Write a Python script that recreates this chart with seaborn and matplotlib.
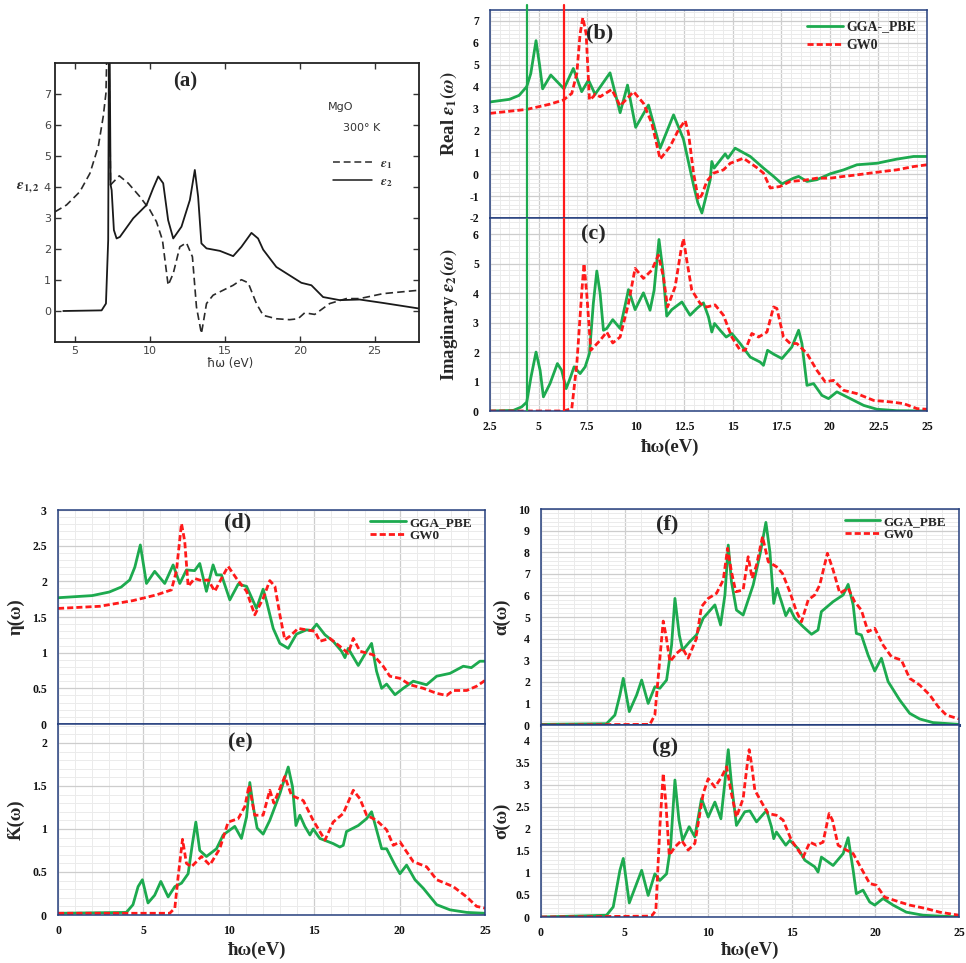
import numpy as np
import pandas as pd
import matplotlib
matplotlib.use('Agg')
import matplotlib.pyplot as plt
import seaborn as sns
from matplotlib.ticker import MultipleLocator, FuncFormatter
from matplotlib.lines import Line2D

sns.set_theme(style='white')
plt.rcParams['font.family'] = ['Liberation Serif', 'DejaVu Serif']
plt.rcParams['font.weight'] = 'bold'
plt.rcParams['mathtext.fontset'] = 'stix'
plt.rcParams['axes.unicode_minus'] = False

# ---------------- data ----------------
# (a) experimental MgO, 300 K
a_e1_x = [3.67, 4.44, 5.33, 6.0, 6.56, 6.89, 7.07, 7.16, 7.25, 7.38, 7.96, 8.56, 9.33, 10.0, 10.44, 10.84,
          11.22, 11.56, 12.0, 12.44, 12.84, 13.11, 13.44, 13.78, 14.22, 14.89, 15.56, 16.11, 16.56, 17.11,
          17.56, 18.44, 19.33, 19.89, 20.33, 21.0, 22.0, 23.11, 24.0, 25.56, 27.96]
a_e1_y = [3.2, 3.42, 3.85, 4.44, 5.31, 6.28, 7.03, 9.0, 9.0, 4.07, 4.36, 4.12, 3.69, 3.26, 2.88, 2.29,
          0.83, 1.21, 2.07, 2.2, 1.75, 0.13, -0.73, 0.24, 0.51, 0.67, 0.83, 1.01, 0.91, 0.24,
          -0.14, -0.25, -0.28, -0.25, -0.06, -0.11, 0.24, 0.4, 0.4, 0.56, 0.67]
a_e2_x = [4.22, 6.78, 7.07, 7.22, 7.27, 7.31, 7.38, 7.45, 7.6, 7.78, 8.0, 8.89, 9.78, 10.22, 10.56, 10.89,
          11.22, 11.56, 12.11, 12.67, 13.0, 13.22, 13.44, 13.78, 14.67, 15.56, 16.11, 16.78, 17.22, 17.56,
          18.44, 20.11, 20.78, 21.56, 22.67, 24.0, 25.56, 27.96]
a_e2_y = [0, 0.02, 0.24, 2.29, 9.0, 9.0, 4.07, 3.9, 2.61, 2.34, 2.39, 2.99, 3.42, 3.96, 4.34, 4.12,
          2.93, 2.34, 2.72, 3.58, 4.55, 3.69, 2.18, 2.02, 1.94, 1.77, 2.07, 2.52, 2.34, 1.98,
          1.42, 0.91, 0.83, 0.45, 0.35, 0.37, 0.26, 0.08]

# (b) real part eps1
b_gga_x = [2.5, 3.5, 4.0, 4.39, 4.6, 4.87, 5.05, 5.21, 5.63, 6.31, 6.79, 7.22, 7.57, 7.91, 8.68, 9.2, 9.58,
           10.0, 10.66, 11.26, 11.95, 12.46, 12.98, 13.2, 13.41, 13.84, 13.92, 14.04, 14.61, 14.75, 15.12,
           15.9, 16.58, 17.1, 17.53, 18.13, 18.39, 18.82, 19.33, 20.02, 20.71, 21.39, 22.42, 23.45, 24.31, 25.0]
b_gga_y = [3.3, 3.42, 3.6, 4.0, 4.6, 6.1, 5.0, 3.9, 4.53, 3.9, 4.83, 3.77, 4.3, 3.65, 4.63, 2.81, 4.07,
           2.14, 3.16, 1.19, 2.71, 1.6, -0.5, -1.3, -1.77, -0.25, 0.58, 0.28, 0.93, 0.73, 1.19,
           0.81, 0.28, -0.1, -0.44, -0.18, -0.1, -0.33, -0.25, 0.02, 0.2, 0.43, 0.5, 0.69, 0.81, 0.81]
b_gw_x = [2.5, 4.39, 5.59, 6.28, 6.71, 6.97, 7.14, 7.28, 7.45, 7.62, 7.82, 7.91, 8.17, 8.77, 9.2, 9.89,
          10.4, 10.83, 11.26, 11.77, 12.2, 12.55, 12.72, 12.98, 13.23, 13.41, 13.66, 14.01, 14.52, 14.87,
          15.55, 16.24, 16.58, 16.93, 17.44, 17.96, 18.65, 19.33, 20.02, 20.71, 21.39, 22.08, 22.77, 23.45,
          24.31, 25.0]
b_gw_y = [2.78, 2.96, 3.2, 3.39, 3.69, 4.6, 6.42, 7.15, 6.42, 3.39, 3.54, 3.66, 3.54, 3.87, 3.12, 3.77,
          3.24, 2.33, 0.69, 1.26, 2.02, 2.45, 1.87, 0.05, -1.16, -0.94, -0.33, 0.05, 0.2, 0.5,
          0.73, 0.3, 0.05, -0.63, -0.56, -0.33, -0.28, -0.18, -0.18, -0.1, -0.03, 0.05, 0.13, 0.2,
          0.35, 0.43]
gap_gga, gap_gw = 4.4, 6.3

# (c) imaginary part eps2
c_gga_x = [2.5, 3.7, 4.13, 4.39, 4.61, 4.87, 5.08, 5.25, 5.59, 5.97, 6.19, 6.42, 6.62, 6.83, 7.14, 7.4,
           7.62, 7.82, 8.0, 8.17, 8.34, 8.51, 8.82, 9.2, 9.63, 9.97, 10.4, 10.74, 10.95, 11.2, 11.4, 11.6,
           11.86, 12.38, 12.8, 13.15, 13.49, 13.75, 13.92, 14.06, 14.35, 14.66, 14.95, 15.38, 15.9, 16.41,
           16.58, 16.79, 17.1, 17.53, 18.04, 18.39, 18.56, 18.82, 19.16, 19.59, 19.93, 20.36, 21.05, 21.74,
           22.42, 23.45, 25.0]
c_gga_y = [0, 0.02, 0.14, 0.3, 1.15, 2.0, 1.38, 0.48, 0.93, 1.61, 1.38, 0.76, 1.1, 1.5, 1.27, 1.5,
           1.95, 3.65, 4.75, 3.99, 2.74, 2.8, 3.1, 2.8, 4.12, 3.44, 4.01, 3.42, 4.1, 5.82, 4.78, 3.22,
           3.44, 3.7, 3.25, 3.48, 3.67, 3.19, 2.68, 2.97, 2.74, 2.51, 2.63, 2.29, 1.83, 1.66,
           1.55, 2.06, 1.93, 1.78, 2.17, 2.74, 2.29, 0.87, 0.93, 0.53, 0.42, 0.65, 0.42, 0.19,
           0.06, 0.01, 0]
c_gw_x = [2.5, 6.28, 6.71, 6.97, 7.22, 7.34, 7.48, 7.69, 8.17, 8.51, 8.82, 9.2, 9.63, 9.97, 10.4, 10.83,
          11.17, 11.43, 11.64, 12.03, 12.32, 12.46, 12.63, 12.89, 13.32, 13.66, 14.09, 14.52, 14.95, 15.38,
          15.64, 15.98, 16.33, 16.76, 17.1, 17.27, 17.61, 17.96, 18.3, 18.82, 19.33, 19.76, 20.19, 20.71,
          21.39, 22.25, 23.11, 23.8, 24.49, 25.0]
c_gw_y = [0, 0, 0.08, 1.6, 3.99, 5.0, 3.99, 2.06, 2.4, 2.68, 2.31, 2.51, 3.65, 4.84, 4.5, 4.78,
          5.29, 4.55, 3.53, 4.21, 5.4, 5.85, 5.12, 4.1, 3.65, 3.53, 3.6, 3.25, 2.51, 2.06,
          2.06, 2.63, 2.51, 2.68, 3.53, 3.48, 2.51, 2.29, 2.29, 1.95, 1.38, 0.99, 1.04, 0.7,
          0.59, 0.36, 0.31, 0.25, 0.08, 0.06]

# (d) refractive index
d_gga_x = [0, 2.0, 3.0, 3.7, 4.2, 4.5, 4.82, 5.18, 5.66, 6.25, 6.74, 7.13, 7.52, 8.0, 8.3, 8.69, 9.08,
           9.28, 9.57, 10.06, 10.55, 11.04, 11.62, 12.01, 12.21, 12.6, 12.99, 13.48, 13.96, 14.55, 14.84,
           15.14, 15.63, 16.11, 16.6, 16.8, 16.99, 17.58, 18.07, 18.36, 18.65, 18.95, 19.24, 19.73, 20.21,
           20.8, 21.58, 22.17, 22.95, 23.73, 24.2, 24.7, 25.0]
d_gga_y = [1.77, 1.8, 1.85, 1.92, 2.02, 2.2, 2.51, 1.97, 2.14, 1.97, 2.23, 1.97, 2.16, 2.15, 2.25, 1.86, 2.23,
           2.09, 2.09, 1.74, 1.96, 1.93, 1.62, 1.89, 1.72, 1.34, 1.13, 1.06, 1.26, 1.32, 1.31,
           1.4, 1.25, 1.16, 1.02, 0.93, 1.06, 0.82, 1.02, 1.13, 0.74, 0.5, 0.56, 0.41, 0.5,
           0.6, 0.55, 0.67, 0.71, 0.81, 0.79, 0.88, 0.88]
d_gw_x = [0, 2.44, 4.39, 5.76, 6.64, 6.93, 7.23, 7.42, 7.62, 8.0, 8.4, 8.79, 9.18, 9.57, 9.96, 10.45,
          11.04, 11.52, 12.01, 12.4, 12.7, 12.99, 13.28, 13.57, 14.06, 14.55, 15.04, 15.33, 15.92, 16.5,
          16.99, 17.29, 17.68, 18.46, 19.04, 19.43, 20.02, 20.61, 21.39, 22.17, 22.75, 23.14, 23.93, 24.51, 25.0]
d_gw_y = [1.62, 1.65, 1.73, 1.81, 1.88, 2.14, 2.81, 2.56, 1.93, 2.04, 2.01, 2.02, 1.86, 2.04, 2.21, 2.04,
          1.86, 1.53, 1.76, 2.01, 1.93, 1.53, 1.18, 1.23, 1.34, 1.32, 1.3, 1.16, 1.2, 1.09,
          0.99, 1.2, 1.02, 0.97, 0.81, 0.67, 0.64, 0.55, 0.5, 0.43, 0.4, 0.47, 0.47, 0.53, 0.61]

# (e) extinction coefficient
e_gga_x = [0, 4.0, 4.39, 4.69, 4.94, 5.27, 5.66, 6.02, 6.45, 6.84, 7.23, 7.62, 7.87, 8.07, 8.3, 8.69, 9.28,
           9.67, 10.35, 10.74, 11.04, 11.23, 11.43, 11.66, 12.01, 12.4, 12.99, 13.48, 13.73, 13.93, 14.16,
           14.45, 14.75, 14.94, 15.33, 16.11, 16.5, 16.7, 16.89, 17.58, 18.07, 18.36, 18.65, 18.95, 19.24,
           19.73, 20.02, 20.41, 20.9, 21.39, 22.17, 22.95, 23.93, 25.0]
e_gga_y = [0.02, 0.03, 0.12, 0.33, 0.41, 0.14, 0.23, 0.39, 0.21, 0.33, 0.37, 0.48, 0.83, 1.08, 0.75, 0.68, 0.77,
           0.93, 1.03, 0.89, 1.14, 1.54, 1.26, 1.01, 0.94, 1.1, 1.41, 1.72, 1.49, 1.04, 1.16,
           1.03, 0.93, 1.0, 0.89, 0.83, 0.79, 0.81, 0.97, 1.04, 1.12, 1.2, 0.99, 0.77, 0.77,
           0.58, 0.48, 0.58, 0.41, 0.31, 0.12, 0.06, 0.03, 0.02]
e_gw_x = [0, 6.54, 6.84, 7.03, 7.29, 7.52, 7.81, 8.4, 8.89, 9.47, 9.96, 10.55, 10.94, 11.19, 11.52, 12.01,
          12.4, 12.64, 13.28, 13.67, 14.36, 14.94, 15.63, 16.11, 16.7, 17.29, 17.68, 18.07, 18.65, 19.24,
          19.63, 20.02, 20.8, 21.58, 22.17, 23.14, 23.93, 24.51, 25.0]
e_gw_y = [0.02, 0.02, 0.08, 0.44, 0.88, 0.6, 0.56, 0.68, 0.58, 0.77, 1.08, 1.12, 1.26, 1.51, 1.16, 1.16,
          1.45, 1.3, 1.61, 1.39, 1.33, 1.1, 0.87, 1.08, 1.18, 1.45, 1.35, 1.16, 1.1, 0.99,
          0.81, 0.85, 0.62, 0.56, 0.41, 0.33, 0.21, 0.1, 0.08]

# (f) absorption coefficient
f_gga_x = [0, 3.92, 4.42, 4.72, 4.92, 5.28, 5.72, 6.02, 6.41, 6.81, 7.11, 7.51, 7.81, 8.01, 8.27, 8.47, 8.9,
           9.3, 9.7, 10.4, 10.74, 11.0, 11.2, 11.39, 11.69, 12.09, 12.69, 13.13, 13.45, 13.69, 13.92, 14.12,
           14.38, 14.64, 14.88, 15.18, 15.68, 16.18, 16.57, 16.77, 17.47, 18.07, 18.37, 18.67, 18.86, 19.16,
           19.56, 19.96, 20.36, 20.76, 21.45, 22.05, 22.65, 23.45, 25.0]
f_gga_y = [0.03, 0.06, 0.46, 1.39, 2.16, 0.62, 1.39, 2.08, 1.0, 1.77, 1.7, 2.08, 3.7, 5.86, 4.17, 3.47, 3.86,
           4.17, 4.94, 5.56, 4.63, 6.02, 8.33, 6.64, 5.32, 5.09, 6.48, 8.02, 9.38, 8.02, 5.63, 6.33,
           5.71, 5.06, 5.4, 4.94, 4.55, 4.2, 4.4, 5.25, 5.71, 6.02, 6.51, 5.56, 4.24, 4.17,
           3.24, 2.5, 3.09, 2.01, 1.16, 0.54, 0.28, 0.11, 0.03]
f_gw_x = [0, 6.51, 6.81, 7.11, 7.31, 7.47, 7.71, 8.11, 8.47, 8.8, 9.3, 9.6, 10.0, 10.5, 10.9, 11.16, 11.39,
          11.65, 12.09, 12.39, 12.63, 12.89, 13.25, 13.59, 14.08, 14.44, 14.88, 15.28, 15.58, 15.98, 16.37,
          16.67, 17.13, 17.47, 17.87, 18.37, 18.76, 19.16, 19.56, 19.96, 20.46, 20.96, 21.55, 22.05, 22.65,
          23.25, 23.75, 24.24, 25.0]
f_gw_y = [0.0, 0.03, 0.46, 3.09, 4.81, 4.17, 2.93, 3.32, 3.55, 3.09, 4.01, 5.48, 5.86, 6.1, 6.71, 8.18, 7.1,
          6.17, 6.25, 7.79, 6.79, 7.41, 8.72, 7.56, 7.33, 7.02, 6.17, 5.25, 4.78, 5.79, 6.02,
          6.48, 7.95, 7.18, 6.1, 6.33, 5.71, 5.32, 4.32, 4.48, 3.7, 3.16, 3.01, 2.16, 1.85,
          1.39, 0.85, 0.46, 0.28]

# (g) optical conductivity
g_gga_x = [0, 3.92, 4.32, 4.72, 4.92, 5.28, 5.72, 6.02, 6.41, 6.81, 7.11, 7.51, 7.75, 8.01, 8.25, 8.47, 8.86,
           9.2, 9.6, 10.0, 10.4, 10.76, 11.0, 11.2, 11.39, 11.69, 12.19, 12.49, 12.89, 13.49, 13.78, 13.92,
           14.08, 14.64, 14.88, 15.38, 15.78, 16.37, 16.57, 16.77, 17.47, 18.07, 18.37, 18.67, 18.86, 19.26,
           19.66, 19.96, 20.46, 21.06, 21.85, 22.85, 25.0]
g_gga_y = [0, 0.04, 0.23, 1.06, 1.33, 0.32, 0.76, 1.06, 0.49, 0.98, 0.83, 0.98, 1.59, 3.11, 2.2, 1.74, 2.05,
           1.82, 2.69, 2.27, 2.61, 2.23, 3.07, 3.8, 3.03, 2.08, 2.39, 2.41, 2.16, 2.42, 2.05, 1.78,
           1.93, 1.63, 1.74, 1.55, 1.29, 1.14, 1.02, 1.36, 1.17, 1.44, 1.8, 1.06, 0.53, 0.61,
           0.34, 0.27, 0.42, 0.27, 0.11, 0.04, 0]
g_gw_x = [0, 6.61, 6.87, 7.11, 7.31, 7.47, 7.67, 8.01, 8.41, 8.8, 9.2, 9.7, 10.0, 10.4, 10.8, 11.1, 11.39,
          11.69, 12.09, 12.33, 12.45, 12.59, 12.79, 13.29, 13.59, 14.08, 14.48, 14.98, 15.38, 15.68, 16.08,
          16.47, 16.87, 17.23, 17.43, 17.77, 18.27, 18.67, 19.16, 19.66, 20.06, 20.56, 21.45, 22.05, 23.05,
          23.84, 25.0]
g_gw_y = [0, 0.02, 0.15, 2.05, 3.26, 2.58, 1.4, 1.59, 1.74, 1.52, 1.67, 2.8, 3.14, 2.95, 3.18, 3.41, 2.8,
          2.27, 2.69, 3.45, 3.8, 3.48, 2.88, 2.54, 2.35, 2.31, 2.2, 1.74, 1.52, 1.36, 1.7,
          1.63, 1.7, 2.35, 2.2, 1.63, 1.52, 1.44, 1.1, 0.76, 0.72, 0.45, 0.34, 0.27, 0.19,
          0.11, 0.04]

# ---------------- figure ----------------
W, H = 966, 963
fig = plt.figure(figsize=(W / 100, H / 100), dpi=100)

def add_ax(l, t, r, b):
    return fig.add_axes([l / W, 1 - b / H, (r - l) / W, (b - t) / H])

GREEN = '#1DAA4F'
RED = '#FF1A1A'
NAVY = '#26407E'
DASH = (2.2, 1.1)
fmt = FuncFormatter(lambda v, p: f'{v:g}')

def curve(ax, x, y, color, dashed=False, lw=2.0, dash=DASH):
    df = pd.DataFrame({'E': x, 'V': y})
    sns.lineplot(data=df, x='E', y='V', ax=ax, color=color, linewidth=lw,
                 sort=False, estimator=None, legend=False)
    ln = ax.lines[-1]
    ln.set_solid_joinstyle('round')
    ln.set_dash_joinstyle('round')
    if dashed:
        ln.set_dashes(dash)
    return ln

def excel_style(ax, xlim, ylim, xmaj, xmin, ymaj, ymin, show_x=True):
    ax.set_xlim(*xlim)
    ax.set_ylim(*ylim)
    ax.xaxis.set_major_locator(MultipleLocator(xmaj))
    ax.xaxis.set_minor_locator(MultipleLocator(xmin))
    ax.yaxis.set_major_locator(MultipleLocator(ymaj))
    ax.yaxis.set_minor_locator(MultipleLocator(ymin))
    ax.xaxis.set_major_formatter(fmt)
    ax.yaxis.set_major_formatter(fmt)
    ax.grid(True, which='major', color='#cdcdcd', linewidth=0.9)
    ax.grid(True, which='minor', color='#ebebeb', linewidth=0.7)
    ax.set_axisbelow(True)
    for s in ax.spines.values():
        s.set_color(NAVY)
        s.set_linewidth(1.1)
    ax.tick_params(which='both', length=0)
    ax.tick_params(axis='y', pad=8, labelsize=8.5, labelcolor='#111111')
    ax.tick_params(axis='x', pad=7, labelsize=8.5, labelcolor='#111111')
    if not show_x:
        ax.tick_params(axis='x', labelbottom=False)
    ax.set_xlabel('')
    ax.set_ylabel('')

def ylab(ax, text, xpos):
    ax.set_ylabel(text, fontsize=13.5, fontweight='bold')
    ax.yaxis.set_label_coords(xpos, 0.5)

def two_handles():
    return [Line2D([], [], color=GREEN, lw=2.0),
            Line2D([], [], color=RED, lw=2.0, dashes=DASH)]

# ---- (a) ----
axa = add_ax(55, 63, 419, 342)
curve(axa, a_e1_x, a_e1_y, '#2a2a2a', dashed=True, lw=1.2, dash=(4.5, 2.5))
curve(axa, a_e2_x, a_e2_y, '#1a1a1a', lw=1.3)
axa.set_xlim(3.67, 27.96)
axa.set_ylim(-1.0, 8.0)
axa.set_xticks([5, 10, 15, 20, 25])
axa.set_yticks(range(0, 8))
axa.set_xlabel('')
axa.set_ylabel('')
for s in axa.spines.values():
    s.set_color('#222222')
    s.set_linewidth(1.3)
axa.tick_params(which='both', direction='in', length=4, width=1, top=True, right=True,
                left=True, bottom=True, labelsize=8, labelcolor='#444444', pad=3, color='#333333')
for lab in axa.get_xticklabels() + axa.get_yticklabels():
    lab.set_fontfamily('DejaVu Sans')
    lab.set_fontweight('normal')
axa.text(0.357, 0.932, '(a)', transform=axa.transAxes, ha='center', va='center',
         fontsize=15, fontweight='bold')
axa.text(0.75, 0.842, 'MgO', transform=axa.transAxes, ha='left', va='center',
         fontsize=8, family='DejaVu Sans', fontweight='normal', color='#333333')
axa.text(0.79, 0.767, '300° K', transform=axa.transAxes, ha='left', va='center',
         fontsize=8, family='DejaVu Sans', fontweight='normal', color='#333333')
h1 = Line2D([], [], color='#2a2a2a', lw=1.1, dashes=(4.5, 2.5))
h2 = Line2D([], [], color='#1a1a1a', lw=1.1)
lega = axa.legend([h1, h2], [r'$\epsilon_1$', r'$\epsilon_2$'], loc='center left',
                  bbox_to_anchor=(0.73, 0.605), frameon=False, handlelength=3.0,
                  handletextpad=0.6, labelspacing=0.35, fontsize=9.5)
for t in lega.get_texts():
    t.set_color('#333333')
fig.text(28 / W, 1 - 188 / H, r'$\epsilon_{1,2}$', ha='center', va='center', fontsize=11,
         color='#333333')
fig.text(230 / W, 1 - 363 / H, 'ħω (eV)', ha='center', va='center', fontsize=8.5,
         family='DejaVu Sans', fontweight='normal', color='#333333')

# ---- (b) ----
axb = add_ax(490, 10, 927, 218)
curve(axb, b_gga_x, b_gga_y, GREEN)
curve(axb, b_gw_x, b_gw_y, RED, dashed=True)
excel_style(axb, (2.5, 25), (-2, 7.5), 2.5, 0.5, 1, 0.2, show_x=False)
axb.axvline(gap_gga, ymin=0, ymax=1.024, color=GREEN, lw=1.6, clip_on=False, zorder=5)
axb.axvline(gap_gw, ymin=0, ymax=1.024, color=RED, lw=1.6, clip_on=False, zorder=5)
axb.text(8.16, 6.45, '(b)', ha='center', va='center', fontsize=16, fontweight='bold', zorder=6)
ylab(axb, r'Real $\varepsilon_1(\omega)$', -0.072)
axb.legend(two_handles(), ['GGA-_PBE', 'GW0'], loc='upper right', bbox_to_anchor=(0.995, 0.99),
           frameon=False, fontsize=10, handlelength=2.6, handletextpad=0.25, labelspacing=0.4,
           borderaxespad=0.2)

# ---- (c) ----
axc = add_ax(490, 218, 927, 411)
curve(axc, c_gga_x, c_gga_y, GREEN)
curve(axc, c_gw_x, c_gw_y, RED, dashed=True)
excel_style(axc, (2.5, 25), (0, 6.55), 2.5, 0.5, 1, 0.2)
axc.axvline(gap_gga, color=GREEN, lw=1.6, zorder=5)
axc.axvline(gap_gw, color=RED, lw=1.6, zorder=5)
axc.text(7.8, 6.0, '(c)', ha='center', va='center', fontsize=16, fontweight='bold')
ylab(axc, r'Imaginary $\varepsilon_2(\omega)$', -0.069)
fig.text(670 / W, 1 - 447 / H, 'ħω(eV)', ha='center', va='center', fontsize=13.5, fontweight='bold')

# ---- (d) ----
axd = add_ax(58, 510, 485, 724)
curve(axd, d_gga_x, d_gga_y, GREEN)
curve(axd, d_gw_x, d_gw_y, RED, dashed=True)
excel_style(axd, (0, 25), (0, 3), 5, 1, 0.5, 0.1, show_x=False)
axd.text(10.54, 2.83, '(d)', ha='center', va='center', fontsize=16, fontweight='bold')
ylab(axd, 'η(ω)', -0.077)
axd.legend(two_handles(), ['GGA_PBE', 'GW0'], loc='upper right', bbox_to_anchor=(0.985, 1.0),
           frameon=False, fontsize=9.5, handlelength=2.7, handletextpad=0.25, labelspacing=0.05,
           borderaxespad=0.1)

# ---- (e) ----
axe = add_ax(58, 724, 485, 915)
curve(axe, e_gga_x, e_gga_y, GREEN)
curve(axe, e_gw_x, e_gw_y, RED, dashed=True)
excel_style(axe, (0, 25), (0, 2.22), 5, 1, 0.5, 0.1)
axe.text(10.66, 2.01, '(e)', ha='center', va='center', fontsize=16, fontweight='bold')
ylab(axe, 'Ƙ(ω)', -0.077)
fig.text(257 / W, 1 - 950 / H, 'ħω(eV)', ha='center', va='center', fontsize=13.5, fontweight='bold')

# ---- (f) ----
axf = add_ax(541, 509, 959, 725)
curve(axf, f_gga_x, f_gga_y, GREEN)
curve(axf, f_gw_x, f_gw_y, RED, dashed=True)
excel_style(axf, (0, 25), (0, 10), 5, 1, 1, 0.2, show_x=False)
axf.spines['bottom'].set_linewidth(2.2)
axf.text(7.54, 9.3, '(f)', ha='center', va='center', fontsize=16, fontweight='bold')
ylab(axf, 'α(ω)', -0.074)
axf.legend(two_handles(), ['GGA_PBE', 'GW0'], loc='upper right', bbox_to_anchor=(0.985, 1.0),
           frameon=False, fontsize=9.5, handlelength=2.7, handletextpad=0.25, labelspacing=0.05,
           borderaxespad=0.1)

# ---- (g) ----
axg = add_ax(541, 725, 959, 917)
curve(axg, g_gga_x, g_gga_y, GREEN)
curve(axg, g_gw_x, g_gw_y, RED, dashed=True)
excel_style(axg, (0, 25), (0, 4.36), 5, 1, 0.5, 0.1)
axg.text(7.42, 3.86, '(g)', ha='center', va='center', fontsize=16, fontweight='bold')
ylab(axg, 'σ(ω)', -0.074)
fig.text(750 / W, 1 - 950 / H, 'ħω(eV)', ha='center', va='center', fontsize=13.5, fontweight='bold')

fig.savefig('out.png', dpi=100)
